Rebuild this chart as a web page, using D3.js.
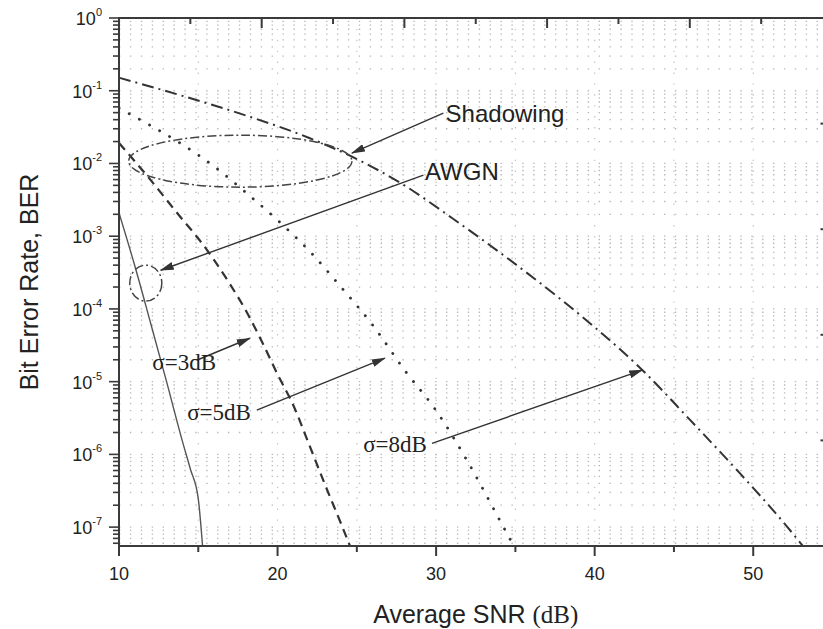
<!DOCTYPE html>
<html lang="en">
<head>
    <meta charset="UTF-8">
    <title>BER vs Average SNR</title>
    <style>
        body { margin: 0; background: #fff; }
        svg { display: block; }
        text { font-family: "Liberation Sans", Arial, sans-serif; fill: #222; }
        .serif { font-family: "Liberation Serif", "Times New Roman", serif; }
    </style>
</head>
<body>
    <svg width="823" height="629"></svg>
    <script src="https://d3js.org/d3.v7.min.js"></script>
    <script>
        // ---- data (x = average SNR in dB, y = BER) ----
        var snrAwgn = [10, 11, 12, 13, 14, 14.5, 15, 15.27];
        var berAwgn = [2.09e-3, 3.89e-4, 6.3e-5, 1.0e-5, 1.51e-6, 6.3e-7, 2.45e-7, 5.5e-8];

        var snrS3 = [10, 11, 12, 13, 14, 15, 16, 17, 18, 19, 20, 21, 22, 23, 24, 25];
        var berS3 = [1.91e-2, 1.07e-2, 5.9e-3, 3.16e-3, 1.70e-3, 9.3e-4, 4.7e-4, 2.19e-4,
                     9.5e-5, 3.6e-5, 1.26e-5, 4.7e-6, 1.35e-6, 3.8e-7, 1.12e-7, 3.2e-8];

        var snrS5 = [10, 12, 14, 16, 18, 20, 22, 24, 26, 28, 30, 32, 34, 35];
        var berS5 = [5.75e-2, 3.31e-2, 1.82e-2, 9.1e-3, 3.98e-3, 1.66e-3, 6.3e-4, 2.0e-4,
                     6.0e-5, 1.45e-5, 4.0e-6, 7.9e-7, 1.26e-7, 5.0e-8];

        var snrS8 = [10, 14, 18, 22, 25, 28, 31, 34, 37, 40, 43, 46, 49, 52, 54];
        var berS8 = [1.51e-1, 8.5e-2, 4.57e-2, 2.24e-2, 1.15e-2, 5.0e-3, 1.78e-3, 6.0e-4,
                     1.91e-4, 5.6e-5, 1.45e-5, 3.0e-6, 6.0e-7, 1.1e-7, 3.2e-8];

        var xTicks = [10, 20, 30, 40, 50];
        var yExponents = [0, -1, -2, -3, -4, -5, -6, -7];

        // annotation texts with anchor (dB, BER)
        var labelText = ["Shadowing", "AWGN", "\u03c3=3dB", "\u03c3=5dB", "\u03c3=8dB"];
        var labelSnr  = [30.6, 29.3, 12.1, 14.3, 25.4];
        var labelBer  = [3.7e-2, 5.9e-3, 1.44e-5, 2.94e-6, 1.07e-6];
        var labelSerif = [false, false, true, true, true];
        // arrows: start (dB, BER) -> tip (dB, BER)
        var arrowFrom = [[30.46, 4.92e-2], [29.2, 6.9e-3], [14.9, 1.97e-5], [18.69, 4.05e-6], [29.74, 1.42e-6]];
        var arrowTo   = [[24.69, 1.39e-2], [12.63, 3.4e-4], [18.25, 3.95e-5], [26.77, 2.1e-5], [43.0, 1.44e-5]];
        // dash-dot ellipses given by their bounds [dB min, dB max, BER min, BER max]
        var rings = [[10.61, 24.69, 4.72e-3, 2.45e-2], [10.68, 12.70, 1.28e-4, 4.0e-4]];

        var svg = d3.select("svg"),
            margin = {top: 18, left: 119},
            width = 713.5,
            height = 528,
            g = svg.append("g").attr("transform", "translate(" + margin.left + "," + margin.top + ")");

        var x = d3.scaleLinear().domain([10, 55]).range([0, width]);
        var xTop = d3.scaleLinear().domain([10, 60]).range([0, width]);   // top frame has its own spacing
        var y = d3.scaleLog().domain([5.5e-8, 1]).range([height, 0]);
        var yRight = d3.scaleLinear().domain([0, 5]).range([height, 0]);

        svg.append("defs").append("clipPath").attr("id", "plotclip")
            .append("rect").attr("width", width).attr("height", height);
        var defs = svg.select("defs");
        defs.append("marker")
            .attr("id", "arrow")
            .attr("markerUnits", "userSpaceOnUse")
            .attr("markerWidth", 15).attr("markerHeight", 8)
            .attr("refX", 13).attr("refY", 4)
            .attr("orient", "auto")
            .append("path").attr("d", "M0,0 L14,4 L0,8 Z").attr("fill", "#333");

        // ---- dotted grid ----
        var minorY = y.ticks().filter(function(v){ return v >= 5.5e-8 && v <= 1; });
        g.append("g").selectAll("line")
            .data(minorY)
            .enter().append("line")
            .attr("x1", 0).attr("x2", width)
            .attr("y1", function(d){ return y(d); }).attr("y2", function(d){ return y(d); })
            .attr("stroke", "#b8b8b8").attr("stroke-width", 1.3)
            .attr("stroke-dasharray", "1.4 9.5");

        g.append("g").selectAll("line")
            .data(d3.range(15, 55, 5))
            .enter().append("line")
            .attr("x1", function(d){ return x(d); }).attr("x2", function(d){ return x(d); })
            .attr("y1", 0).attr("y2", height)
            .attr("stroke", "#c4c4c4").attr("stroke-width", 1.2)
            .attr("stroke-dasharray", "1.4 9.5");

        // ---- curves ----
        var line = d3.line()
            .x(function(d){ return x(d[0]); })
            .y(function(d){ return y(d[1]); })
            .curve(d3.curveMonotoneX);

        function pairs(xs, ys) { return xs.map(function(v, i){ return [v, ys[i]]; }); }

        var series = [
            {pts: pairs(snrAwgn, berAwgn), dash: null, w: 1.4, c: "#555", cap: "butt"},
            {pts: pairs(snrS3, berS3), dash: "9 6", w: 2.2, c: "#333", cap: "butt"},
            {pts: pairs(snrS5, berS5), dash: "0.1 11.5", w: 2.8, c: "#333", cap: "round"},
            {pts: pairs(snrS8, berS8), dash: "12 5 2 5", w: 2, c: "#333", cap: "butt"}
        ];

        g.append("g").attr("clip-path", "url(#plotclip)")
            .selectAll("path")
            .data(series)
            .enter().append("path")
            .attr("d", function(d){ return line(d.pts); })
            .attr("fill", "none")
            .attr("stroke", function(d){ return d.c; })
            .attr("stroke-width", function(d){ return d.w; })
            .attr("stroke-linecap", function(d){ return d.cap; })
            .attr("stroke-dasharray", function(d){ return d.dash; });

        // ---- annotations ----
        g.append("g").selectAll("ellipse")
            .data(rings)
            .enter().append("ellipse")
            .attr("cx", function(d){ return (x(d[0]) + x(d[1])) / 2; })
            .attr("cy", function(d){ return (y(d[2]) + y(d[3])) / 2; })
            .attr("rx", function(d){ return (x(d[1]) - x(d[0])) / 2; })
            .attr("ry", function(d){ return (y(d[2]) - y(d[3])) / 2; })
            .attr("fill", "none").attr("stroke", "#444").attr("stroke-width", 1.5)
            .attr("stroke-dasharray", "9 3 2 3");

        g.append("g").selectAll("line")
            .data(arrowFrom)
            .enter().append("line")
            .attr("x1", function(d){ return x(d[0]); })
            .attr("y1", function(d){ return y(d[1]); })
            .attr("x2", function(d, i){ return x(arrowTo[i][0]); })
            .attr("y2", function(d, i){ return y(arrowTo[i][1]); })
            .attr("stroke", "#333").attr("stroke-width", 1.4)
            .attr("marker-end", "url(#arrow)");

        g.append("g").selectAll("text")
            .data(labelText)
            .enter().append("text")
            .attr("class", function(d, i){ return labelSerif[i] ? "serif" : null; })
            .attr("x", function(d, i){ return x(labelSnr[i]); })
            .attr("y", function(d, i){ return y(labelBer[i]); })
            .attr("font-size", function(d, i){ return labelSerif[i] ? 23 : 24; })
            .text(function(d){ return d; });

        // ---- axes / frame ----
        var frame = "#3a3a3a";

        // bottom
        var bottom = g.append("g").attr("transform", "translate(0," + height + ")");
        bottom.selectAll("line.tk")
            .data(d3.range(10, 56, 5))
            .enter().append("line")
            .attr("x1", function(d){ return x(d); }).attr("x2", function(d){ return x(d); })
            .attr("y1", 0).attr("y2", function(d){ return d % 10 === 0 ? 10 : 6; })
            .attr("stroke", frame).attr("stroke-width", 2);
        bottom.selectAll("text")
            .data(xTicks)
            .enter().append("text")
            .attr("x", function(d){ return x(d); })
            .attr("y", 34)
            .attr("text-anchor", "middle")
            .attr("font-size", 18)
            .text(function(d){ return d; });

        // top (inward ticks)
        g.append("g").selectAll("line")
            .data(d3.range(15, 61, 5))
            .enter().append("line")
            .attr("x1", function(d){ return xTop(d); }).attr("x2", function(d){ return xTop(d); })
            .attr("y1", 0).attr("y2", function(d){ return d % 10 === 0 ? 10 : 6; })
            .attr("stroke", frame).attr("stroke-width", 2);

        // right (inward ticks)
        g.append("g").selectAll("line")
            .data(d3.range(1, 5))
            .enter().append("line")
            .attr("x1", width).attr("x2", width - 12)
            .attr("y1", function(d){ return yRight(d); }).attr("y2", function(d){ return yRight(d); })
            .attr("stroke", frame).attr("stroke-width", 2);

        // left (outward ticks, log)
        var left = g.append("g");
        left.selectAll("line")
            .data(minorY)
            .enter().append("line")
            .attr("x1", 0)
            .attr("x2", function(d){ return Math.abs(Math.log10(d) - Math.round(Math.log10(d))) < 1e-6 ? -10 : -6; })
            .attr("y1", function(d){ return y(d); }).attr("y2", function(d){ return y(d); })
            .attr("stroke", frame).attr("stroke-width", 1.6);

        var ylab = left.selectAll("text")
            .data(yExponents)
            .enter().append("text")
            .attr("x", -17)
            .attr("y", function(d){ return y(Math.pow(10, d)) + 7; })
            .attr("text-anchor", "end")
            .attr("font-size", 18);
        ylab.append("tspan").text("10");
        ylab.append("tspan").attr("dy", -9).attr("font-size", 11).text(function(d){ return d; });

        // frame lines
        g.append("rect")
            .attr("width", width).attr("height", height)
            .attr("fill", "none").attr("stroke", frame).attr("stroke-width", 2);

        // axis titles
        var xt = svg.append("text")
            .attr("x", margin.left + width / 2)
            .attr("y", 623)
            .attr("text-anchor", "middle")
            .attr("font-size", 25);
        xt.append("tspan").text("Average SNR ");
        xt.append("tspan").attr("class", "serif").text("(dB)");

        svg.append("text")
            .attr("transform", "translate(38," + (margin.top + height / 2) + ") rotate(-90)")
            .attr("text-anchor", "middle")
            .attr("font-size", 25)
            .text("Bit Error Rate, BER");
    </script>
</body>
</html>
